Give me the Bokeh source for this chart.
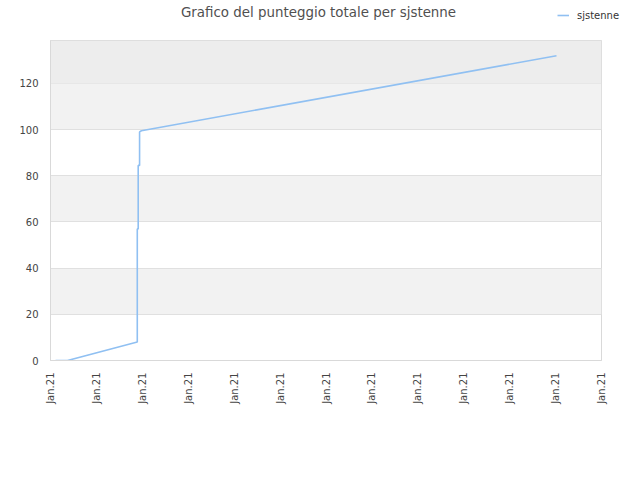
from math import pi

from bokeh.plotting import figure
from bokeh.layouts import column
from bokeh.models import (FixedTicker, Legend, LegendItem, BoxAnnotation,
                          Range1d, Label)
from bokeh.embed import file_html
from bokeh.resources import INLINE

# punti della curva (asse x: posizione relativa fra le tacche)
giorni = [0.11, 0.37, 1.89, 1.89, 1.91, 1.91, 1.94, 1.94, 1.98, 11.02]
punteggio = [0, 0, 8, 57, 57, 84.5, 84.5, 99, 99.5, 132]
tacche = list(range(13))
etichette = ["Jan.21"] * 13
tacche_y = [0, 20, 40, 60, 80, 100, 120]
colore = "#90c0f2"
titolo = "Grafico del punteggio totale per sjstenne"
nome = "sjstenne"

# intestazione: titolo e legenda
h = figure(frame_width=632, frame_height=38, output_backend="svg",
           toolbar_location=None,
           x_range=Range1d(0, 12), y_range=Range1d(0, 1),
           x_axis_location=None, y_axis_location=None,
           min_border=0, min_border_left=0, min_border_right=0,
           min_border_top=0, min_border_bottom=0)
h.outline_line_color = None
h.grid.visible = False
h.add_layout(Label(x=268, y=26, x_units="screen", y_units="screen",
                   text=titolo, text_align="center",
                   text_baseline="middle", text_font="DejaVu Sans",
                   text_font_size="13.4px", text_color="#505050"))
# un solo punto: non disegna nulla, serve solo alla legenda
segno = h.line(x=giorni[:1], y=punteggio[:1], line_color=colore,
               line_width=1.6)
legend = Legend(items=[LegendItem(label=nome, renderers=[segno])],
                location=(557, 17), border_line_color=None,
                background_fill_alpha=0, label_text_font="DejaVu Sans",
                label_text_font_size="10px", label_text_color="#333333",
                glyph_width=12, glyph_height=12, label_height=12,
                label_standoff=8, padding=2, margin=0)
h.add_layout(legend, "center")

# grafico principale
p = figure(width=632, height=434, output_backend="svg",
           toolbar_location=None,
           x_range=Range1d(0, 12), y_range=Range1d(0, 138.6),
           min_border_left=50, min_border_right=31,
           min_border_top=2, min_border_bottom=112)

p.background_fill_color = "white"
p.outline_line_color = "#d9d9d9"

p.add_layout(BoxAnnotation(bottom=120, fill_color="#ededed", fill_alpha=1,
                           line_color=None, level="underlay"))

p.line(giorni, punteggio, line_color=colore, line_width=1.6)

p.xaxis.ticker = FixedTicker(ticks=tacche)
p.xaxis.major_label_overrides = {t: e for t, e in zip(tacche, etichette)}
p.xaxis.major_label_orientation = pi / 2
p.yaxis.ticker = FixedTicker(ticks=tacche_y)
for ax in (p.xaxis, p.yaxis):
    ax.axis_line_color = "#d9d9d9"
    ax.major_tick_line_color = None
    ax.minor_tick_line_color = None
    ax.major_label_text_font = "DejaVu Sans"
    ax.major_label_text_font_size = "10px"
    ax.major_label_text_color = "#444444"
    ax.major_label_standoff = 6

p.xgrid.grid_line_color = None
p.ygrid.grid_line_color = "#e0e0e0"
p.ygrid.band_fill_color = "#f2f2f2"
p.ygrid.band_fill_alpha = 1

open("out.html", "w").write(file_html(column(h, p, spacing=0), INLINE))
